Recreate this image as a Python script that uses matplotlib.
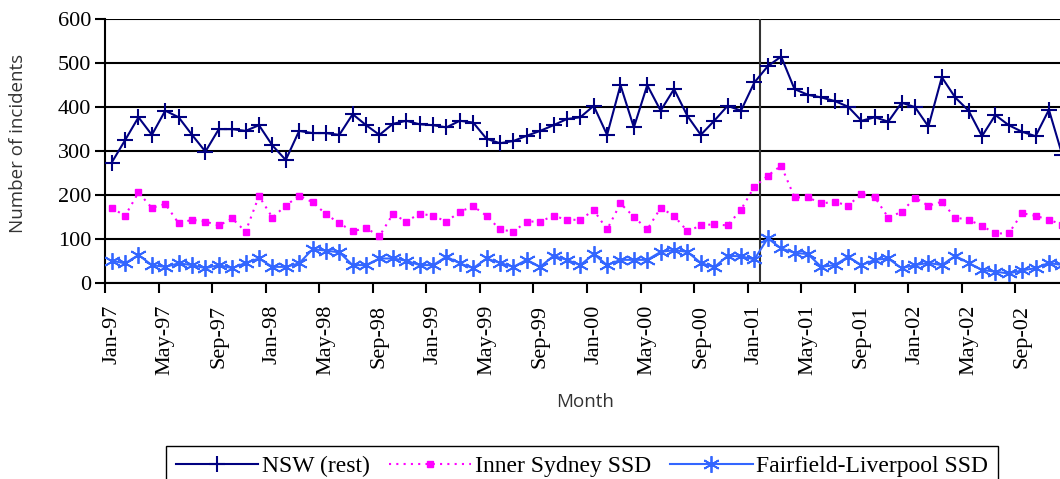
import matplotlib
matplotlib.use("Agg")
from matplotlib import pyplot as plt

# monthly counts, Jan-97 .. Dec-02
nsw_rest = [273, 324, 376, 336, 391, 376, 336, 298, 349, 349, 345, 358,
            312, 279, 345, 340, 340, 336, 383, 358, 336, 361, 368, 360,
            358, 353, 368, 364, 327, 317, 322, 334, 345, 358, 372, 376,
            402, 336, 449, 353, 449, 391, 440, 379, 336, 368, 402, 391,
            455, 492, 514, 440, 427, 421, 413, 400, 368, 376, 366, 409,
            399, 355, 467, 421, 391, 333, 381, 358, 343, 333, 393, 290]

inner_sydney = [170, 152, 205, 170, 179, 135, 143, 139, 130, 146, 116, 197,
                148, 175, 198, 183, 156, 135, 117, 124, 106, 156, 139, 157,
                152, 139, 161, 174, 152, 121, 116, 139, 139, 152, 143, 143,
                165, 121, 180, 150, 121, 170, 152, 117, 130, 133, 130, 166,
                218, 243, 266, 194, 194, 180, 184, 175, 202, 194, 148, 161,
                193, 175, 184, 148, 143, 129, 112, 112, 158, 152, 143, 132]

fairfield_liverpool = [50, 44, 63, 40, 36, 44, 40, 33, 40, 33, 45, 55,
                       36, 36, 44, 76, 73, 69, 40, 40, 55, 55, 50, 40,
                       40, 59, 44, 33, 55, 45, 36, 52, 36, 61, 52, 40,
                       65, 40, 52, 52, 52, 70, 74, 70, 45, 35, 61, 60,
                       53, 101, 78, 68, 65, 36, 40, 59, 40, 52, 55, 33,
                       40, 45, 40, 61, 45, 29, 25, 21, 28, 33, 45, 40]

tick_labels = ["Jan-97", "May-97", "Sep-97", "Jan-98", "May-98", "Sep-98",
               "Jan-99", "May-99", "Sep-99", "Jan-00", "May-00", "Sep-00",
               "Jan-01", "May-01", "Sep-01", "Jan-02", "May-02", "Sep-02"]

months = list(range(len(nsw_rest)))

fig = plt.figure(figsize=(10.6, 4.79), dpi=100)
ax = fig.add_axes([105 / 1060, 1 - 282.7 / 479, 964 / 1060, 264 / 479])

ax.plot(months, nsw_rest, color="#000080", lw=1.5, marker="+",
        markersize=11, markeredgewidth=1.5, label="NSW (rest)", zorder=4)
ax.plot(months, inner_sydney, color="#ff00ff", lw=1.5, ls=(0, (1, 2.5)),
        marker="s", markersize=4.5, label="Inner Sydney SSD", zorder=4)
ax.plot(months, fairfield_liverpool, color="#3366ff", lw=1.5,
        marker=(6, 2, 0), markersize=12, markeredgewidth=1.3,
        label="Fairfield-Liverpool SSD", zorder=4)

# vertical reference line early 2001
ax.axvline(48.44, color="#333333", lw=1.5, zorder=3)

ax.set_xlim(-0.5, 71.5)
ax.set_ylim(0, 600)
ax.set_yticks(range(0, 700, 100))
ax.yaxis.grid(True, color="black", lw=1.5)
ax.set_axisbelow(True)
for s in ["top", "right"]:
    ax.spines[s].set_visible(False)
ax.spines["left"].set_linewidth(1.5)
ax.spines["bottom"].set_linewidth(1.5)

serif = "Liberation Serif"
ax.set_xticks(months[::4], tick_labels, rotation=90, fontsize=16,
              family=serif)
ax.set_xticks([m - 0.5 for m in months[::4]], minor=True)
ax.tick_params(axis="x", which="major", length=0, pad=16)
ax.tick_params(axis="x", which="minor", length=7, width=1.5, direction="out")
ax.tick_params(axis="y", length=7, width=1.5, direction="out", pad=3,
               labelsize=16)
for t in ax.get_yticklabels():
    t.set_family(serif)

ax.set_xlabel("Month", family="Open Sans", fontsize=13.5, color="#333333")
ax.xaxis.set_label_coords(0.498, -0.418)
ax.set_ylabel("Number of incidents", family="Open Sans", fontsize=13.5,
              color="#333333")
ax.yaxis.set_label_coords(-0.081, 0.529)

leg = fig.legend(loc="upper center", bbox_to_anchor=(0.549, 1 - 446 / 479),
                 ncol=3, frameon=True, fancybox=False, edgecolor="black",
                 framealpha=1, borderaxespad=0, handlelength=3.5,
                 handletextpad=0.15, columnspacing=0.8,
                 prop={"family": serif, "size": 17})
leg.get_frame().set_linewidth(1.0)

fig.savefig("out.png", dpi=100)
